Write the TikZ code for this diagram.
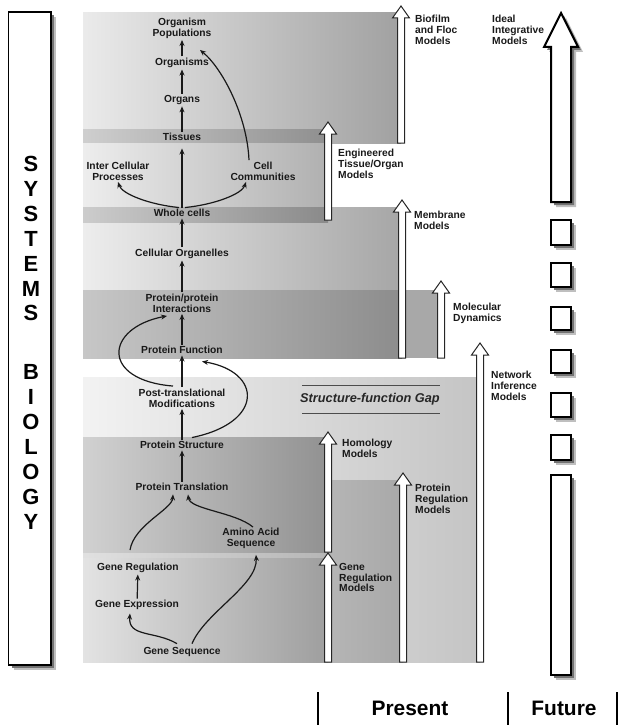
\documentclass[tikz,border=0pt]{standalone}
\usepackage{fontspec}
\setmainfont{Liberation Sans}
\usetikzlibrary{arrows.meta,calc}
\newcommand\modelarrow[3]{% x, tip y, bottom y
  \path[modelarrowstyle] (#1-3.5,#3) -- (#1-3.5,#2+12) -- (#1-8.5,#2+12) -- (#1,#2) -- (#1+8.5,#2+12) -- (#1+3.5,#2+12) -- (#1+3.5,#3) -- cycle;}
\newcommand\futurearrow[2]{%
  \path[#1] (551+#2,202+#2) -- (551+#2,47+#2) -- (544+#2,47+#2) -- (561+#2,13+#2) -- (578+#2,47+#2) -- (571+#2,47+#2) -- (571+#2,202+#2) -- cycle;}
\tikzset{
  lbl/.style={font=\fontsize{10.3}{11}\selectfont\bfseries, text=black!90, inner sep=1.5bp, align=center},
  rlbl/.style={font=\fontsize{10.3}{10.8}\selectfont\bfseries, text=black!90, inner sep=0pt, align=left, anchor=north west},
  conn/.style={line width=1.2bp, -{Stealth[length=6bp,width=5bp]}, black!90},
  modelarrowstyle/.style={fill=white, draw=black!85, line width=1bp, line join=miter},
  futurebox/.style={fill=white, draw=black, line width=2bp},
  softshadow/.style={fill=black!25},
  hardshadow/.style={fill=black!55},
  bigletters/.style={font=\fontsize{22}{25}\selectfont\bfseries, inner sep=0pt, align=center, anchor=north},
  gapline/.style={line width=1bp, black!70},
}
\begin{document}
\begin{tikzpicture}[x=1bp,y=-1bp]
\useasboundingbox (0,0) rectangle (618,725);

% ---------- bands ----------
\shade[left color=black!5, right color=black!23] (83,377) rectangle (480,662);
\shade[left color=black!12, right color=black!34] (83,480) rectangle (403,662);
\shade[left color=black!18, right color=black!43] (83,437) rectangle (328,552);
\shade[left color=black!11, right color=black!38] (83,558) rectangle (328,662);

\shade[left color=black!8, right color=black!37] (83,13) rectangle (401,143);
\shade[left color=black!19, right color=black!44] (83,130) rectangle (328,143);
\shade[left color=black!7, right color=black!31] (83,143) rectangle (328,207);
\shade[left color=black!7, right color=black!35] (83,207) rectangle (402,358);
\shade[left color=black!20, right color=black!46] (83,207) rectangle (328,222);
\shade[left color=black!22, right color=black!45] (83,290) rectangle (402,358);
\fill[black!34] (402,290) rectangle (441,358);

% ---------- model arrows ----------
\modelarrow{401}{6}{143}
\modelarrow{328}{122}{220}
\modelarrow{402}{200}{358}
\modelarrow{441}{281}{358}
\modelarrow{480}{343}{662}
\modelarrow{328}{432}{552}
\modelarrow{403}{473}{662}
\modelarrow{328}{553}{662}

% ---------- structure-function gap ----------
\draw[gapline] (302,385) -- (440,385);
\draw[gapline] (302,413) -- (440,413);
\node[name=gap, font=\fontsize{12.8}{14}\selectfont\bfseries\itshape, text=black!85, inner sep=0pt] at (370,399) {Structure-function Gap};

% ---------- left box ----------
\fill[softshadow] (14,17) rectangle (56,670);
\fill[hardshadow] (12,15.5) rectangle (54,668);
\draw[line width=1.6bp, fill=white] (8.5,12) rectangle (51,665);
\node[bigletters, name=sysbio] at (31,156) {S\\Y\\S\\T\\E\\M\\S\\[34bp]B\\I\\O\\L\\O\\G\\Y};

% ---------- future column ----------
\futurearrow{softshadow}{5}
\futurearrow{hardshadow}{3}
\futurearrow{futurebox}{0}
\foreach \t/\b [count=\i] in {220/245,263/287,307/330,350/373,393/417,435/460,475/675} {
  \fill[softshadow] (556,\t+5) rectangle (576,\b+5);
  \fill[hardshadow] (554,\t+3) rectangle (574,\b+3);
  \draw[futurebox] (551,\t) rectangle (571,\b);
}

% ---------- hierarchy nodes ----------
\node[lbl, name=pop] at (182,28) {Organism\\Populations};
\node[lbl, name=organisms] at (182,63) {Organisms};
\node[lbl, name=organs] at (182,100) {Organs};
\node[lbl, name=tissues] at (182,137) {Tissues};
\node[lbl, name=inter] at (118,171) {Inter Cellular\\Processes};
\node[lbl, name=cellcomm] at (263,171) {Cell\\Communities};
\node[lbl, name=whole] at (182,213) {Whole cells};
\node[lbl, name=organelles] at (182,254) {Cellular Organelles};
\node[lbl, name=ppi] at (182,303) {Protein/protein\\Interactions};
\node[lbl, name=pfunc] at (182,350) {Protein Function};
\node[lbl, name=ptm] at (182,398) {Post-translational\\Modifications};
\node[lbl, name=pstruct] at (182,445) {Protein Structure};
\node[lbl, name=ptrans] at (182,487) {Protein Translation};
\node[lbl, name=amino] at (251,538) {Amino Acid\\Sequence};
\node[lbl, name=generegul] at (138,568) {Gene Regulation};
\node[lbl, name=geneexpr] at (137,605) {Gene Expression};
\node[lbl, name=geneseq] at (182,652) {Gene Sequence};
\coordinate (grtop) at (130,550);

% ---------- connectors ----------
\draw[conn] (organisms) -- (pop);
\draw[conn] (organs) -- (organisms);
\draw[conn] (tissues) -- (organs);
\draw[conn, shorten >=6bp] (whole) -- (tissues);
\draw[conn] (organelles) -- (whole);
\draw[conn] (ppi) -- (organelles);
\draw[conn] (pfunc) -- (ppi);
\draw[conn] (ptm) -- (pfunc);
\draw[conn] (pstruct) -- (ptm);
\draw[conn] (ptrans) -- (pstruct);
\draw[conn] (geneexpr) -- (generegul);

\draw[conn] ($(whole.north)+(-3,0)$) .. controls +(-30,-3) and +(4,12) .. (inter.south);
\draw[conn] ($(whole.north)+(3,0)$) .. controls +(30,-3) and +(-4,12) .. ($(cellcomm.south)+(-17,0)$);
\draw[conn] ($(cellcomm.north)+(-14,0)$) .. controls +(-2,-45) and +(22,18) .. ($(pop.south)+(18,10)$);
\draw[conn] ($(ptm.north)+(-9,-1)$) .. controls +(-73,-6) and +(-62,12) .. ($(ppi.south)+(-15,2)$);
\draw[conn] ($(pstruct.north)+(10,-2)$) .. controls +(73,-15) and +(60,10) .. ($(pfunc.south)+(20,6)$);
\draw[conn] ($(geneseq.north)+(-5,-2)$) .. controls +(-22,-13) and +(-2,24) .. ($(geneexpr.south)+(-7,2)$);
\draw[conn] ($(geneseq.north)+(10,-2)$) .. controls +(13,-31) and +(2,30) .. ($(amino.south)+(5,5)$);
\draw[conn] (grtop) .. controls +(4,-25) and +(-1,15) .. ($(ptrans.south)+(-9,2)$);
\draw[conn] ($(amino.north)+(2,1)$) .. controls +(-18,-15) and +(2,15) .. ($(ptrans.south)+(6,2)$);

% ---------- model labels ----------
\node[rlbl, name=biofilm] at (415,15) {Biofilm\\and Floc\\Models};
\node[rlbl, name=ideal] at (492,15) {Ideal\\Integrative\\Models};
\node[rlbl, name=engineered] at (338,149) {Engineered\\Tissue/Organ\\Models};
\node[rlbl, name=membrane] at (414,211) {Membrane\\Models};
\node[rlbl, name=molecular] at (453,303) {Molecular\\Dynamics};
\node[rlbl, name=network] at (491,371) {Network\\Inference\\Models};
\node[rlbl, name=homology] at (342,439) {Homology\\Models};
\node[rlbl, name=protreg] at (415,484) {Protein\\Regulation\\Models};
\node[rlbl, name=genereg] at (339,563) {Gene\\Regulation\\Models};

% ---------- bottom ----------
\draw[line width=2bp] (318,692) -- (318,725);
\draw[line width=2bp] (508,692) -- (508,725);
\draw[line width=2bp] (617,692) -- (617,725);
\node[name=present, font=\fontsize{21}{21}\selectfont\bfseries, inner sep=0pt] at (410,708) {Present};
\node[name=future, font=\fontsize{21}{21}\selectfont\bfseries, inner sep=0pt] at (564,708) {Future};
\end{tikzpicture}
\end{document}
